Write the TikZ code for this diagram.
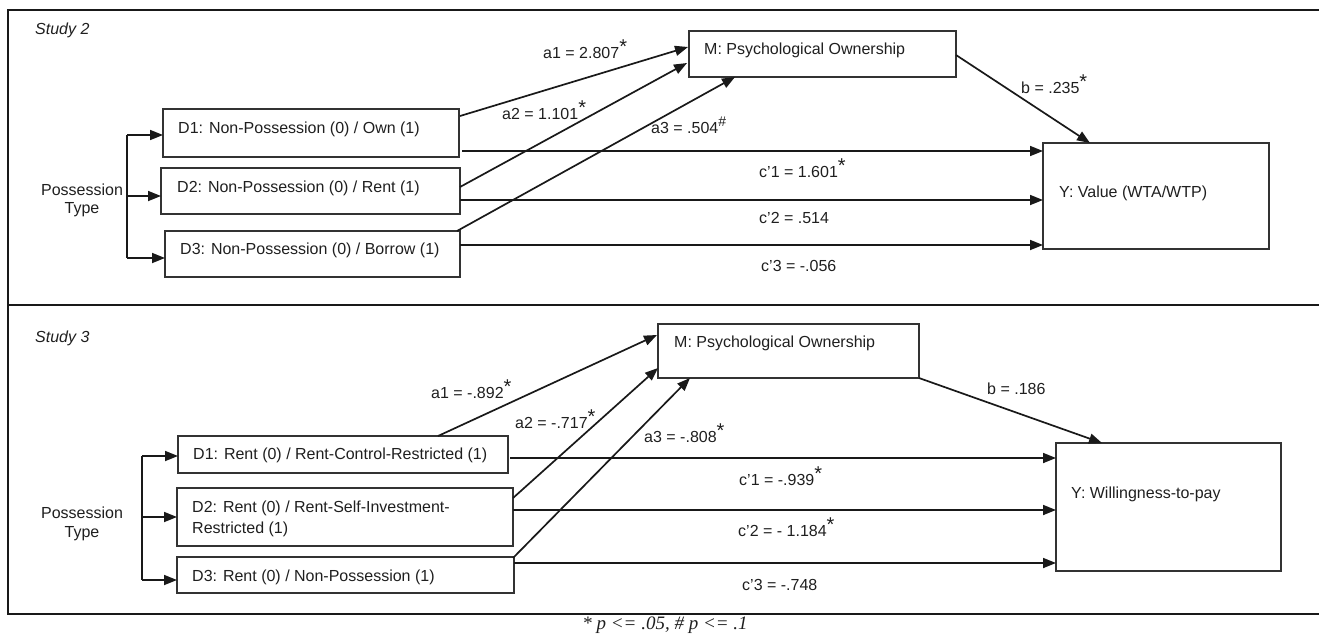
\documentclass[tikz,border=0pt]{standalone}
\usepackage{fontspec}
\setmainfont{Liberation Sans}
\newfontfamily\serifit{Liberation Serif}
\usetikzlibrary{arrows.meta,calc}
\newcommand{\sig}{\raisebox{5pt}{\fontsize{20}{20}\selectfont *}}
\newcommand{\hsig}{\raisebox{7pt}{\fontsize{14}{14}\selectfont\#}}
\begin{document}
\begin{tikzpicture}[x=1pt,y=-1pt,
  every node/.style={font=\fontsize{16}{19}\selectfont, text=black!88},
  box/.style={draw=black!80, line width=1.2pt, inner sep=0pt, outer sep=0pt, anchor=north west},
  lbl/.style={anchor=base west, inner sep=0pt},
  arr/.style={line width=1.7pt, draw=black!90, -{Triangle[length=13pt,width=10pt]}},
  frame/.style={line width=1.3pt, draw=black!90}]
\useasboundingbox (0,0) rectangle (1319,638);
% frames
\draw[frame] (1319,10) -- (8,10) -- (8,614) -- (1319,614);
\draw[frame] (8,305) -- (1319,305);

% ================= Study 2 =================
\node[lbl, font=\fontsize{16}{19}\selectfont\itshape] (s2) at (35,34) {Study 2};
\node[box, minimum width=296pt, minimum height=48pt] (ad1) at (163,109) {};
\node[box, minimum width=299pt, minimum height=46pt] (ad2) at (161,168) {};
\node[box, minimum width=295pt, minimum height=46pt] (ad3) at (165,231) {};
\node[box, minimum width=267pt, minimum height=46pt] (am) at (689,31) {};
\node[box, minimum width=226pt, minimum height=106pt] (ay) at (1043,143) {};
\node[lbl] (ad1t) at (178,133.5) {D1: Non-Possession (0) / Own (1)};
\node[lbl] (ad2t) at (177,192.5) {D2: Non-Possession (0) / Rent (1)};
\node[lbl] (ad3t) at (180,254) {D3: Non-Possession (0) / Borrow (1)};
\node[lbl] (amt) at (704,54) {M: Psychological Ownership};
\node[lbl] (ayt) at (1059,197) {Y: Value (WTA/WTP)};
\node[anchor=base, inner sep=0pt] (apt1) at (82,195) {Possession};
\node[anchor=base, inner sep=0pt] (apt2) at (82,213) {Type};
% bracket
\coordinate (ab1) at (127,135);
\coordinate (ab2) at (127,196);
\coordinate (ab3) at (127,258);
\draw[line width=1.6pt, draw=black!90] (ab1) -- (ab3);
\draw[arr] (ab1) -- (ab1 -| ad1.west);
\draw[arr] (ab2) -- (ab2 -| ad2.west);
\draw[arr] (ab3) -- (ab3 -| ad3.west);
% a paths
\draw[arr] ($(ad1.north east)+(1,7)$) -- ($(am.north west)+(-1,16)$);
\draw[arr] ($(ad2.north east)+(0,19)$) -- ($(am.north west)+(-2,32)$);
\draw[arr] ($(ad3.north east)+(-3,0)$) -- ($(am.south west)+(46,0)$);
\draw[arr] ($(am.east)+(0,1)$) -- ($(ay.north west)+(47,0)$);
% c' paths
\coordinate (ac1) at ($(ad1.south east)+(3,-6)$);
\coordinate (ac2) at ($(ad2.north east)+(0,32)$);
\coordinate (ac3) at ($(ad3.north east)+(0,14)$);
\draw[arr] (ac1) -- (ac1 -| ay.west);
\draw[arr] (ac2) -- (ac2 -| ay.west);
\draw[arr] (ac3) -- (ac3 -| ay.west);
% labels
\node[lbl] (la1) at (543,58) {a1 = 2.807\sig};
\node[lbl] (la2) at (502,119) {a2 = 1.101\sig};
\node[lbl] (la3) at (651,133) {a3 = .504\hsig};
\node[lbl] (lb) at (1021,93) {b = .235\sig};
\node[lbl] (lc1) at (759,177) {c’1 = 1.601\sig};
\node[lbl] (lc2) at (759,223) {c’2 = .514};
\node[lbl] (lc3) at (761,271) {c’3 = -.056};

% ================= Study 3 =================
\node[lbl, font=\fontsize{16}{19}\selectfont\itshape] (s3) at (35,342) {Study 3};
\node[box, minimum width=330pt, minimum height=37pt] (bd1) at (178,436) {};
\node[box, minimum width=336pt, minimum height=58pt] (bd2) at (177,488) {};
\node[box, minimum width=337pt, minimum height=36pt] (bd3) at (177,557) {};
\node[box, minimum width=261pt, minimum height=54pt] (bm) at (658,324) {};
\node[box, minimum width=225pt, minimum height=128pt] (by) at (1056,443) {};
\node[lbl] (bd1t) at (193,459) {D1: Rent (0) / Rent-Control-Restricted (1)};
\node[lbl] (bd2t) at (192,512) {D2: Rent (0) / Rent-Self-Investment-};
\node[lbl] (bd2u) at (192,533) {Restricted (1)};
\node[lbl] (bd3t) at (192,581) {D3: Rent (0) / Non-Possession (1)};
\node[lbl] (bmt) at (674,347) {M: Psychological Ownership};
\node[lbl] (byt) at (1071,498) {Y: Willingness-to-pay};
\node[anchor=base, inner sep=0pt] (bpt1) at (82,518) {Possession};
\node[anchor=base, inner sep=0pt] (bpt2) at (82,537) {Type};
% bracket
\coordinate (bb1) at (142,456);
\coordinate (bb2) at (142,517);
\coordinate (bb3) at (142,580);
\draw[line width=1.6pt, draw=black!90] (bb1) -- (bb3);
\draw[arr] (bb1) -- (bb1 -| bd1.west);
\draw[arr] (bb2) -- (bb2 -| bd2.west);
\draw[arr] (bb3) -- (bb3 -| bd3.west);
% a paths
\draw[arr] ($(bd1.north west)+(260,0)$) -- ($(bm.north west)+(-1,11)$);
\draw[arr] ($(bd2.north east)+(0,10)$) -- ($(bm.south west)+(0,-10)$);
\draw[arr] ($(bd3.north east)+(-1,1)$) -- ($(bm.south west)+(32,0)$);
\draw[arr] (bm.south east) -- ($(by.north west)+(46,0)$);
% c' paths
\coordinate (bc1) at ($(bd1.north east)+(2,22)$);
\coordinate (bc2) at ($(bd2.north east)+(0,22)$);
\coordinate (bc3) at ($(bd3.north east)+(0,6)$);
\draw[arr] (bc1) -- (bc1 -| by.west);
\draw[arr] (bc2) -- (bc2 -| by.west);
\draw[arr] (bc3) -- (bc3 -| by.west);
% labels
\node[lbl] (ma1) at (431,398) {a1 = -.892\sig};
\node[lbl] (ma2) at (515,428) {a2 = -.717\sig};
\node[lbl] (ma3) at (644,442) {a3 = -.808\sig};
\node[lbl] (mb) at (987,394) {b = .186};
\node[lbl] (mc1) at (739,485) {c’1 = -.939\sig};
\node[lbl] (mc2) at (738,536) {c’2 = - 1.184\sig};
\node[lbl] (mc3) at (742,590) {c’3 = -.748};

% footer
\node[anchor=base, inner sep=0pt, font=\fontsize{19}{22}\selectfont\serifit\itshape] (foot) at (665,629) {* p <= .05, \# p <= .1};
\end{tikzpicture}
\end{document}
